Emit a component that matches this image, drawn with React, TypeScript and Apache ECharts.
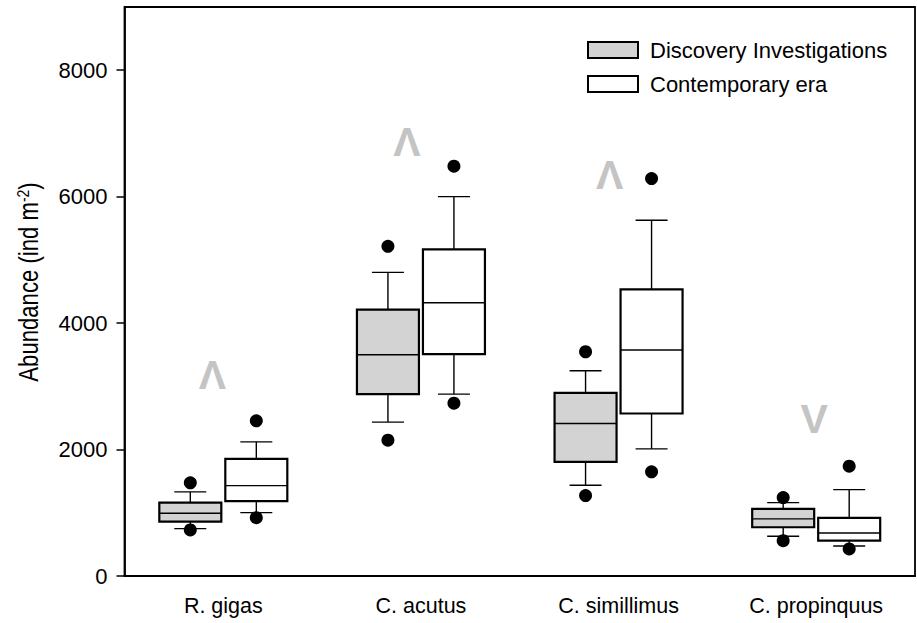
import React, { useEffect, useRef } from "react";
import * as echarts from "echarts";

const categories = ["R. gigas", "C. acutus", "C. simillimus", "C. propinquus"];
// [lower whisker, Q1, median, Q3, upper whisker]
const discoveryBox = [
  [749, 860, 993, 1161, 1330],
  [2434, 2877, 3500, 4212, 4803],
  [1436, 1805, 2412, 2898, 3246],
  [628, 771, 903, 1061, 1161],
];
// [lower point, upper point]
const discoveryOutliers = [
  [728, 1473],
  [2149, 5215],
  [1272, 3547],
  [559, 1240],
];
const contemporaryBox = [
  [1003, 1183, 1430, 1853, 2122],
  [2877, 3510, 4323, 5167, 6001],
  [2011, 2570, 3574, 4534, 5627],
  [475, 559, 681, 918, 1367],
];
const contemporaryOutliers = [
  [923, 2454],
  [2734, 6482],
  [1647, 6286],
  [428, 1737],
];
const trendSymbols = ["Λ", "Λ", "Λ", "V"];
const trendValues = [3183, 6872, 6350, 2486];
const yTicks = [0, 2000, 4000, 6000, 8000];
const yTitle = "Abundance (ind m{sup|-2})";

const FONT = "'Liberation Sans', Arial, sans-serif";

function boxRenderer(offset: number, fill: string) {
  return (params: any, api: any) => {
    const i = api.value(0);
    const cx = api.coord([i, 0])[0] + offset;
    const y = (k: number) => api.coord([i, api.value(k)])[1];
    const lw = y(1), q1 = y(2), med = y(3), q3 = y(4), uw = y(5), lo = y(6), hi = y(7);
    const half = 31;
    const cap = 16;
    const thin = { stroke: "#000", lineWidth: 1.4 };
    return {
      type: "group",
      children: [
        { type: "line", shape: { x1: cx, y1: q3, x2: cx, y2: uw }, style: thin },
        { type: "line", shape: { x1: cx, y1: q1, x2: cx, y2: lw }, style: thin },
        { type: "line", shape: { x1: cx - cap, y1: uw, x2: cx + cap, y2: uw }, style: thin },
        { type: "line", shape: { x1: cx - cap, y1: lw, x2: cx + cap, y2: lw }, style: thin },
        {
          type: "rect",
          shape: { x: cx - half, y: q3, width: half * 2, height: q1 - q3 },
          style: { fill, stroke: "#000", lineWidth: 2.2 },
        },
        { type: "line", shape: { x1: cx - half, y1: med, x2: cx + half, y2: med }, style: thin },
        { type: "circle", shape: { cx, cy: lo, r: 6.5 }, style: { fill: "#000" } },
        { type: "circle", shape: { cx, cy: hi, r: 6.5 }, style: { fill: "#000" } },
      ],
    };
  };
}

const trendOffsets = [-11, -14, -9, -2];

export default function App() {
  const ref = useRef<HTMLDivElement>(null);
  useEffect(() => {
    if (!ref.current) return;
    const chart = echarts.init(ref.current, null, { renderer: "svg" });
    const mk = (box: number[][], out: number[][]) =>
      box.map((b, i) => [i, ...b, out[i][0], out[i][1]]);
    chart.setOption({
      animation: false,
      textStyle: { fontFamily: FONT },
      grid: {
        left: 124.5,
        right: 2,
        top: 7,
        bottom: 47,
        show: true,
        borderColor: "#000",
        borderWidth: 1.8,
      },
      graphic: [
        {
          type: "text",
          x: 29,
          y: 282,
          rotation: Math.PI / 2,
          scaleX: 0.82,
          style: {
            text: yTitle,
            font: `27px ${FONT}`,
            fill: "#000",
            align: "center",
            verticalAlign: "middle",
            rich: {
              sup: { font: `17px ${FONT}`, fill: "#000", verticalAlign: "top", padding: [0, 0, 12, 0] },
            },
          },
        },
      ],
      legend: {
        left: 587,
        top: 39,
        padding: 0,
        orient: "vertical",
        itemWidth: 50,
        itemHeight: 16,
        itemGap: 12,
        selectedMode: false,
        textStyle: { fontSize: 22, lineHeight: 16, color: "#000", fontFamily: FONT, padding: [0, 0, 0, 7] },
        data: [
          {
            name: "Discovery Investigations",
            icon: "rect",
            itemStyle: { color: "#d2d3d2", borderColor: "#000", borderWidth: 2 },
          },
          {
            name: "Contemporary era",
            icon: "rect",
            itemStyle: { color: "#fff", borderColor: "#000", borderWidth: 2 },
          },
        ],
      },
      xAxis: {
        type: "category",
        data: categories,
        axisLine: { lineStyle: { color: "#000", width: 1.8 } },
        axisTick: { alignWithLabel: true, length: 8, lineStyle: { color: "#000", width: 1.5 } },
        axisLabel: { color: "#000", fontSize: 21.5, margin: 19, fontFamily: FONT },
        splitLine: { show: false },
      },
      yAxis: {
        type: "value",
        min: 0,
        max: 9000,
        interval: 2000,
        axisLine: { show: true, lineStyle: { color: "#000", width: 1.8 } },
        axisTick: { show: true, length: 8, lineStyle: { color: "#000", width: 1.5 } },
        axisLabel: {
          color: "#000",
          fontSize: 22,
          margin: 17,
          fontFamily: FONT,
          showMaxLabel: false,
          formatter: (v: number) => (yTicks.includes(v) ? String(v) : ""),
        },
        splitLine: { show: false },
      },
      series: [
        {
          name: "Discovery Investigations",
          type: "custom",
          renderItem: boxRenderer(-33, "#d2d3d2"),
          itemStyle: { color: "#d2d3d2", borderColor: "#000" },
          data: mk(discoveryBox, discoveryOutliers),
          z: 3,
        },
        {
          name: "Contemporary era",
          type: "custom",
          renderItem: boxRenderer(33, "#fff"),
          itemStyle: { color: "#fff", borderColor: "#000" },
          data: mk(contemporaryBox, contemporaryOutliers),
          z: 3,
        },
        {
          type: "custom",
          renderItem: (params: any, api: any) => {
            const i = api.value(0);
            const p = api.coord([i, api.value(1)]);
            return {
              type: "text",
              x: p[0] + trendOffsets[i],
              y: p[1],
              style: {
                text: trendSymbols[i],
                fill: "#c4c4c4",
                font: `bold 41px ${FONT}`,
                align: "center",
                verticalAlign: "middle",
              },
            };
          },
          data: trendValues.map((v, i) => [i, v]),
          z: 2,
        },
      ],
    });
    return () => chart.dispose();
  }, []);
  return <div ref={ref} style={{ width: 917, height: 623, position: "absolute", left: 0, top: 0 }} />;
}
